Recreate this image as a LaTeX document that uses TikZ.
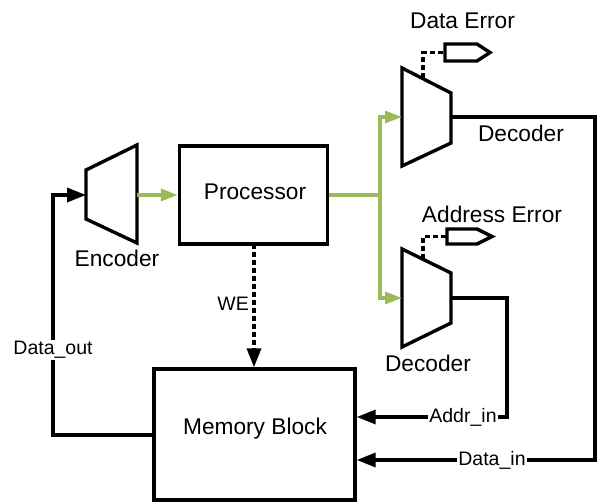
\documentclass[tikz,border=0pt]{standalone}
\usepackage{fontspec}
\setmainfont{Liberation Sans}
\usetikzlibrary{arrows.meta}
\definecolor{grn}{RGB}{155,187,89}
\begin{document}
\begin{tikzpicture}[x=1pt,y=-1pt,
  thick line/.style={line width=3.4pt,line join=miter},
  blk/.style={draw,thick line,rectangle,inner sep=0pt},
  bigtxt/.style={font=\fontsize{22.7}{26}\selectfont,inner sep=0pt},
  smalltxt/.style={font=\fontsize{19.5}{22}\selectfont,inner sep=1pt},
  barrow/.style={thick line,-{Triangle[length=19pt,width=14pt]}},
  garrow/.style={draw=grn,line width=3.2pt,-{Triangle[length=17pt,width=12pt]}},
  gline/.style={draw=grn,line width=3.2pt},
  dotline/.style={thick line,dash pattern=on 5pt off 3pt},
  port/.style={thick line,line join=miter}
]
\useasboundingbox (0,0) rectangle (597,503);
% Processor and memory
\node[blk,minimum width=148pt,minimum height=98pt] (proc) at (253.5,195) {};
\node[bigtxt] (proct) at (255,192) {Processor};
\node[blk,minimum width=201pt,minimum height=131pt] (mem) at (254.5,434.5) {};
\node[bigtxt] (memt) at (255,429) {Memory Block};
% Encoder
\draw[thick line] (86,170) -- (137,145) -- (137,243) -- (86,219) -- cycle;
\coordinate (encin) at (86,195);
\coordinate (encout) at (137,195);
\node[bigtxt] (enct) at (117,258) {Encoder};
% Top decoder
\draw[thick line] (402,68) -- (451,93) -- (451,143) -- (402,166) -- cycle;
\coordinate (dec1in) at (402,117);
\coordinate (dec1out) at (451,117);
\coordinate (dec1top) at (423,78);
\node[bigtxt] (dec1t) at (521,133) {Decoder};
% Bottom decoder
\draw[thick line] (402,249) -- (451,273) -- (451,323) -- (402,347) -- cycle;
\coordinate (dec2in) at (402,298);
\coordinate (dec2out) at (451,298);
\coordinate (dec2top) at (423,259);
\node[bigtxt] (dec2t) at (428,363) {Decoder};
% Error ports
\draw[port] (445,44) -- (477,44) -- (490,52.5) -- (477,61) -- (445,61) -- cycle;
\coordinate (p1) at (445,52.5);
\node[bigtxt] (de) at (462.5,21) {Data Error};
\draw[dotline] (dec1top) |- (p1);
\draw[port] (447,229) -- (477,229) -- (492,236.5) -- (477,244) -- (447,244) -- cycle;
\coordinate (p2) at (447,236.5);
\node[bigtxt] (ae) at (492,214) {Address Error};
\draw[dotline] (dec2top) |- (p2);
% Green connections
\draw[garrow] (encout) -- (proc.west |- encout);
\coordinate (split) at (380,195);
\draw[gline] (proc.east |- split) -- (split);
\draw[garrow] (split) |- (dec1in);
\draw[garrow] (split) |- (dec2in);
% WE
\coordinate (we1) at (254,244);
\draw[dotline,-{Triangle[length=19pt,width=14pt]}] (we1) -- (mem.north -| we1);
\node[smalltxt,anchor=east] (wet) at (250,304) {WE};
% Data_out
\coordinate (do1) at (53,435);
\draw[barrow] (mem.west |- do1) -- (do1) -- (53,195) -- (encin);
\node[smalltxt,fill=white] (dot) at (53,350) {Data\_out};
% Addr_in
\coordinate (ai1) at (507,298);
\coordinate (ai2) at (507,417);
\draw[barrow] (dec2out) -- (ai1) -- (ai2) -- (mem.east |- ai2);
\node[smalltxt,fill=white] (ait) at (463,417) {Addr\_in};
% Data_in
\coordinate (di1) at (595,117);
\coordinate (di2) at (595,460);
\draw[barrow] (dec1out) -- (di1) -- (di2) -- (mem.east |- di2);
\node[smalltxt,fill=white] (dit) at (492,460) {Data\_in};
\end{tikzpicture}
\end{document}
